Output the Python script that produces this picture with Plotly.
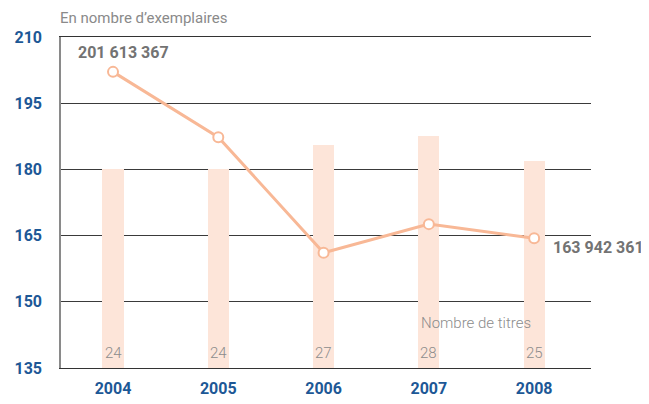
import plotly.graph_objects as go

years = ["2004", "2005", "2006", "2007", "2008"]
exemplaires = [202.1, 187.3, 161.1, 167.6, 164.4]   # millions of copies
titres = [24, 24, 27, 28, 25]                        # number of titles
first_label = "201 613 367"
last_label = "163 942 361"
y_ticks = [135, 150, 165, 180, 195, 210]

xpos = list(range(len(years)))

BLUE = "#1d5896"
GRAY = "#737373"
LINE = "#f8b896"
BAR = "#fde5d9"
FONT = "Roboto"

fig = go.Figure()

fig.add_trace(go.Bar(
    x=xpos, y=titres, width=0.2,
    marker=dict(color=BAR, line=dict(width=0)),
    yaxis="y", showlegend=False, hoverinfo="skip",
))

fig.add_trace(go.Scatter(
    x=xpos, y=exemplaires, mode="lines+markers",
    line=dict(color=LINE, width=3),
    marker=dict(size=10, color="white", line=dict(color=LINE, width=2)),
    yaxis="y2", showlegend=False,
))

annotations = [
    dict(text="En nombre d\u2019exemplaires", xref="paper", yref="paper",
         x=-0.005, y=1.0, xanchor="left", yanchor="bottom", yshift=8,
         showarrow=False, font=dict(family=FONT, size=15, color="#8a8a8a")),
    dict(text=first_label, xref="x", yref="y2", x=xpos[0], y=exemplaires[0],
         xanchor="center", yanchor="middle", xshift=10, yshift=19,
         showarrow=False, font=dict(family=FONT, size=16, color=GRAY, weight="bold")),
    dict(text=last_label, xref="x", yref="y2", x=xpos[-1], y=exemplaires[-1],
         xanchor="left", yanchor="middle", xshift=17, yshift=-9,
         showarrow=False, font=dict(family=FONT, size=16, color=GRAY, weight="bold")),
    dict(text="Nombre de titres", xref="x", yref="y2", x=3.45, y=145.3,
         xanchor="center", yanchor="middle",
         showarrow=False, font=dict(family=FONT, size=15, color="#8c8c8c", weight=300)),
]
for xp, t in zip(xpos, titres):
    annotations.append(dict(
        text=str(t), xref="x", yref="y", x=xp, y=0,
        xanchor="center", yanchor="middle", yshift=15, showarrow=False,
        font=dict(family=FONT, size=15, color="#8c8c8c", weight=300)))

fig.update_layout(
    width=641, height=396,
    margin=dict(l=53, r=58, t=29, b=36, autoexpand=False),
    paper_bgcolor="white", plot_bgcolor="white",
    bargap=0,
    xaxis=dict(
        range=[-0.494, 4.54], tickvals=xpos, ticktext=years,
        showgrid=False, zeroline=False, showline=True, mirror=True,
        linecolor="#333333", linewidth=1, ticks="", automargin=False,
        tickfont=dict(family=FONT, size=16, color=BLUE, weight="bold"),
        ticklabelstandoff=6,
    ),
    yaxis=dict(
        range=[0, 40], visible=False, showgrid=False, zeroline=False,
        automargin=False,
    ),
    yaxis2=dict(
        overlaying="y", side="left", range=[135, 210],
        tickvals=y_ticks, ticktext=[str(v) for v in y_ticks],
        showgrid=True, gridcolor="#3a3a3a", gridwidth=1,
        zeroline=False, showline=True, linecolor="#8a8a8a", linewidth=1.5,
        ticks="", ticklabelstandoff=14, automargin=False,
        tickfont=dict(family=FONT, size=16, color=BLUE, weight="bold"),
    ),
    annotations=annotations,
)

fig.write_html("out.html")
